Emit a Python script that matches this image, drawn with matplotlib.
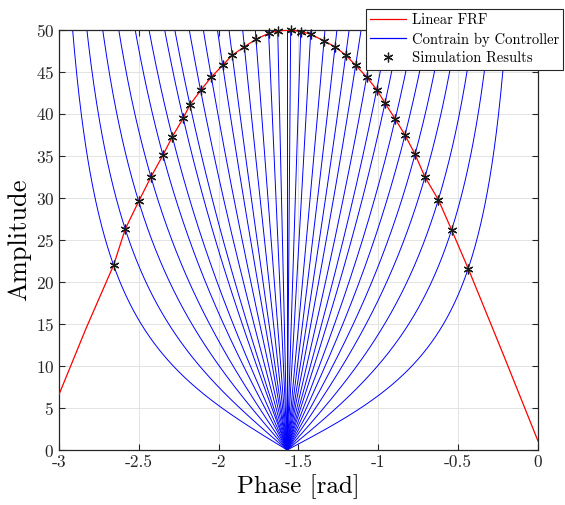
import numpy as np
import matplotlib
matplotlib.use("Agg")
import matplotlib.pyplot as plt

# simulation results (phase [rad], amplitude)
sim_phase = [-2.658, -2.585, -2.501, -2.424, -2.349, -2.290, -2.222, -2.180,
             -2.113, -2.046, -1.975, -1.915, -1.839, -1.766, -1.687, -1.630,
             -1.549, -1.486, -1.424, -1.340, -1.271, -1.204, -1.142, -1.073,
             -1.010, -0.958, -0.894, -0.833, -0.770, -0.708, -0.624, -0.541,
             -0.437]
sim_amp = [22.0, 26.3, 29.6, 32.5, 35.1, 37.3, 39.5, 41.1,
           42.8, 44.4, 45.8, 47.0, 48.0, 48.9, 49.6, 49.9,
           50.0, 49.8, 49.5, 48.7, 48.0, 47.0, 45.8, 44.4,
           42.9, 41.3, 39.4, 37.5, 35.2, 32.5, 29.8, 26.2,
           21.6]

# extra points of the linear FRF outside the simulated range
frf_edge_phase = [-3.0, -2.83, -0.22, 0.0]
frf_edge_amp = [6.6, 14.5, 11.5, 1.07]

center_phase = -np.pi / 2
x_ticks = [-3, -2.5, -2, -1.5, -1, -0.5, 0]
x_ticklabels = ["-3", "-2.5", "-2", "-1.5", "-1", "-0.5", "0"]
y_ticks = list(range(0, 51, 5))

plt.rcParams["font.family"] = ["cmr10", "DejaVu Serif"]
plt.rcParams["mathtext.fontset"] = "cm"
plt.rcParams["axes.unicode_minus"] = False
plt.rcParams["axes.formatter.use_mathtext"] = True

fig = plt.figure(figsize=(5.65, 5.05), dpi=100)
ax = fig.add_axes([0.1044, 0.1089, 0.8478, 0.8317])

# controller constraint curves: A = k * tan(|phase + pi/2|), one through each result
for p, a in zip(sim_phase, sim_amp):
    d = abs(p - center_phase)
    k = a / np.tan(d)
    dd = np.linspace(0, np.arctan(52 / k), 300)
    side = -1 if p < center_phase else 1
    ax.plot(center_phase + side * dd, k * np.tan(dd), color=(0, 0, 1), lw=0.7,
            zorder=2)
ax.plot([center_phase, center_phase], [0, 50], color=(0, 0, 1), lw=0.7, zorder=2)

frf = sorted(zip(sim_phase + frf_edge_phase, sim_amp + frf_edge_amp))
ax.plot([f[0] for f in frf], [f[1] for f in frf], color=(1, 0, 0), lw=0.9, zorder=3)

ax.plot(sim_phase, sim_amp, linestyle="none", marker=(6, 2, 0), markersize=7,
        markeredgewidth=0.9, color="#1a1a1a", zorder=4, clip_on=False)

# legend proxies
h1, = ax.plot([], [], color=(1, 0, 0), lw=0.9)
h2, = ax.plot([], [], color=(0, 0, 1), lw=0.9)
h3, = ax.plot([], [], linestyle="none", marker=(6, 2, 0), markersize=7,
              markeredgewidth=0.9, color="#1a1a1a")
leg = fig.legend([h1, h2, h3], ["Linear FRF", "Contrain by Controller", "Simulation Results"],
                 loc="upper right", bbox_to_anchor=(0.9965, 0.982),
                 bbox_transform=fig.transFigure, borderaxespad=0, fontsize=10.5,
                 handlelength=2.5, handletextpad=0.35, labelspacing=0.35,
                 borderpad=0.3, fancybox=False, framealpha=1)
leg.get_frame().set_edgecolor("#262626")
leg.get_frame().set_linewidth(0.8)

ax.set_xlim(-3, 0)
ax.set_ylim(0, 50)
ax.set_xticks(x_ticks)
ax.set_xticklabels(x_ticklabels)
ax.set_yticks(y_ticks)
ax.tick_params(direction="in", top=True, right=True, labelsize=12.5, length=4,
               width=0.8, colors="#262626")
ax.grid(True, color="#e3e3e3", lw=0.7)
ax.set_axisbelow(True)
for s in ax.spines.values():
    s.set_color("#262626")
    s.set_linewidth(0.9)

ax.set_xlabel("Phase [rad]", fontsize=18, labelpad=3)
ax.set_ylabel("Amplitude", fontsize=19, labelpad=3)

fig.savefig("out.png", dpi=100)
